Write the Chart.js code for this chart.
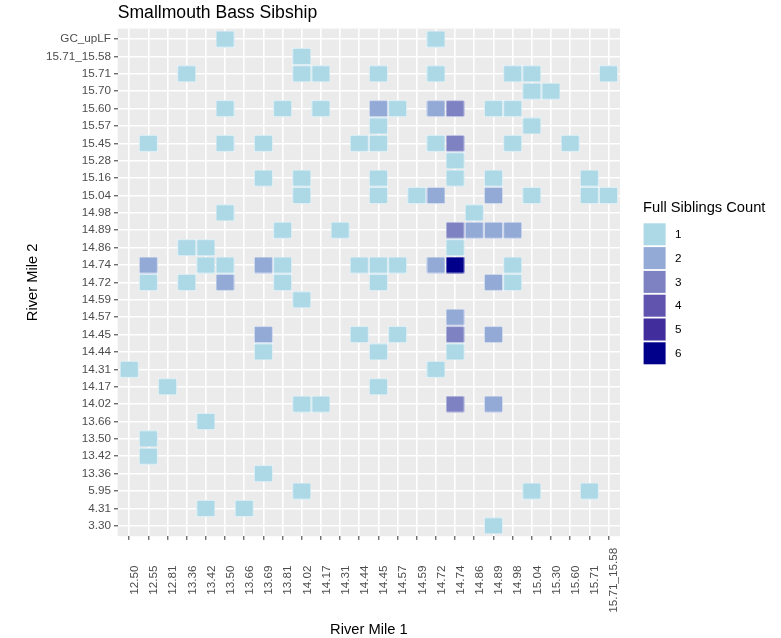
<!DOCTYPE html>
<html>
<head>
<meta charset="utf-8">
<title>Smallmouth Bass Sibship</title>
<script src="https://cdn.jsdelivr.net/npm/chart.js@4.4.1/dist/chart.umd.min.js"></script>
<style>
  html, body { margin: 0; padding: 0; background: #fff; }
  #sibChart { display: block; }
</style>
</head>
<body>
<canvas id="sibChart" width="781" height="638"></canvas>
<script>
// ---- data ----
const riverMile1 = ["12.50", "12.55", "12.81", "13.36", "13.42", "13.50", "13.66", "13.69", "13.81",
    "14.02", "14.17", "14.31", "14.44", "14.45", "14.57", "14.59", "14.72", "14.74", "14.86",
    "14.89", "14.98", "15.04", "15.30", "15.60", "15.71", "15.71_15.58"];

// top to bottom
const riverMile2 = ["GC_upLF", "15.71_15.58", "15.71", "15.70", "15.60", "15.57", "15.45", "15.28",
    "15.16", "15.04", "14.98", "14.89", "14.86", "14.74", "14.72", "14.59", "14.57", "14.45",
    "14.44", "14.31", "14.17", "14.02", "13.66", "13.50", "13.42", "13.36", "5.95", "4.31", "3.30"];

const countLevels = [1, 2, 3, 4, 5, 6];
const countColors = ["#ADD8E6", "#94AAD6", "#7E82C3", "#6154AE", "#412E9C", "#00008B"];

// one entry per River Mile 2 row (same order as riverMile2)
const tileRM1 = [
    ["13.50", "14.72"],
    ["14.02"],
    ["13.36", "14.02", "14.17", "14.45", "14.72", "14.98", "15.04", "15.71_15.58"],
    ["15.04", "15.30"],
    ["13.50", "13.81", "14.17", "14.45", "14.57", "14.72", "14.74", "14.89", "14.98"],
    ["14.45", "15.04"],
    ["12.55", "13.50", "13.69", "14.44", "14.45", "14.72", "14.74", "14.98", "15.60"],
    ["14.74"],
    ["13.69", "14.02", "14.45", "14.74", "14.89", "15.71"],
    ["14.02", "14.45", "14.59", "14.72", "14.89", "15.04", "15.71", "15.71_15.58"],
    ["13.50", "14.86"],
    ["13.81", "14.31", "14.74", "14.86", "14.89", "14.98"],
    ["13.36", "13.42", "14.74"],
    ["12.55", "13.42", "13.50", "13.69", "13.81", "14.44", "14.45", "14.57", "14.72", "14.74", "14.98"],
    ["12.55", "13.36", "13.50", "13.81", "14.45", "14.89", "14.98"],
    ["14.02"],
    ["14.74"],
    ["13.69", "14.44", "14.57", "14.74", "14.89"],
    ["13.69", "14.45", "14.74"],
    ["12.50", "14.72"],
    ["12.81", "14.45"],
    ["14.02", "14.17", "14.74", "14.89"],
    ["13.42"],
    ["12.55"],
    ["12.55"],
    ["13.69"],
    ["14.02", "15.04", "15.71"],
    ["13.42", "13.66"],
    ["14.89"]
];

const tileCount = [
    [1, 1],
    [1],
    [1, 1, 1, 1, 1, 1, 1, 1],
    [1, 1],
    [1, 1, 1, 2, 1, 2, 3, 1, 1],
    [1, 1],
    [1, 1, 1, 1, 1, 1, 3, 1, 1],
    [1],
    [1, 1, 1, 1, 1, 1],
    [1, 1, 1, 2, 2, 1, 1, 1],
    [1, 1],
    [1, 1, 3, 2, 2, 2],
    [1, 1, 1],
    [2, 1, 1, 2, 1, 1, 1, 1, 2, 6, 1],
    [1, 1, 2, 1, 1, 2, 1],
    [1],
    [2],
    [2, 1, 1, 3, 2],
    [1, 1, 1],
    [1, 1],
    [1, 1],
    [1, 1, 3, 2],
    [1],
    [1],
    [1],
    [1],
    [1, 1, 1],
    [1, 1],
    [1]
];

// ---- look ----
const FONT = "'Liberation Sans', Arial, Helvetica, sans-serif";
const EXPAND = 0.6; // ggplot discrete axis expansion

const points = [];
riverMile2.forEach((rm2, j) => {
    tileRM1[j].forEach((rm1, k) => {
        points.push({ x: riverMile1.indexOf(rm1), y: j, n: tileCount[j][k] });
    });
});

// tile drawn as a canvas pointStyle, sized from the scales
const tileCache = {};
function tileImage(chart, n) {
    const xs = chart.scales.x, ys = chart.scales.y;
    if (!xs || !ys || !n) return "rect";
    const w = Math.round(Math.abs(xs.getPixelForValue(1) - xs.getPixelForValue(0)));
    const h = Math.round(Math.abs(ys.getPixelForValue(1) - ys.getPixelForValue(0)));
    if (!(w > 2 && h > 2)) return "rect";
    const key = n + "_" + w + "_" + h;
    if (tileCache[key]) return tileCache[key];
    const c = document.createElement("canvas");
    c.width = w;
    c.height = h;
    const g = c.getContext("2d");
    g.fillStyle = "rgba(255,255,255,0.8)";
    g.fillRect(0, 0, w, h);
    g.fillStyle = countColors[n - 1];
    g.fillRect(0.6, 0.6, w - 1.2, h - 1.2);
    tileCache[key] = c;
    return c;
}

const panelBg = {
    id: "panelBg",
    beforeDraw(chart) {
        const { ctx, chartArea: a } = chart;
        ctx.save();
        ctx.fillStyle = "#fff";
        ctx.fillRect(0, 0, chart.width, chart.height);
        ctx.fillStyle = "#EBEBEB";
        ctx.fillRect(a.left, a.top, a.right - a.left, a.bottom - a.top);
        ctx.restore();
    }
};

const textBits = {
    id: "textBits",
    afterDraw(chart) {
        const { ctx, chartArea: a } = chart;
        const xs = chart.scales.x;
        ctx.save();

        // title
        ctx.fillStyle = "#000";
        ctx.font = "17.6px " + FONT;
        ctx.textAlign = "left";
        ctx.textBaseline = "alphabetic";
        ctx.fillText("Smallmouth Bass Sibship", a.left, 17.6);

        // x tick labels, rotated and centred
        ctx.fillStyle = "#4D4D4D";
        ctx.font = "11.7px " + FONT;
        riverMile1.forEach((lab, i) => {
            const px = xs.getPixelForValue(i);
            ctx.save();
            ctx.translate(px, a.bottom + 44);
            ctx.rotate(-Math.PI / 2);
            ctx.textAlign = "center";
            ctx.fillText(lab, 0, 8.8);
            ctx.restore();
        });

        // axis titles
        ctx.fillStyle = "#000";
        ctx.font = "14.7px " + FONT;
        ctx.textAlign = "center";
        ctx.fillText("River Mile 1", (a.left + a.right) / 2, 634);
        ctx.save();
        ctx.translate(37.3, (a.top + a.bottom) / 2);
        ctx.rotate(-Math.PI / 2);
        ctx.fillText("River Mile 2", 0, 0);
        ctx.restore();

        // legend
        const lx = 643, ly = 222.7, step = 23.8, key = 23.2;
        ctx.textAlign = "left";
        ctx.fillText("Full Siblings Count", lx, 212);
        ctx.font = "11.7px " + FONT;
        ctx.textBaseline = "middle";
        countLevels.forEach((lv, i) => {
            const y = ly + i * step;
            ctx.fillStyle = "#fff";
            ctx.fillRect(lx, y, key, key);
            ctx.fillStyle = countColors[i];
            ctx.fillRect(lx + 0.6, y + 0.6, key - 1.2, key - 1.2);
            ctx.fillStyle = "#000";
            ctx.fillText(String(lv), lx + 32, y + key / 2 + 0.5);
        });

        ctx.restore();
    }
};

new Chart(document.getElementById("sibChart"), {
    type: "scatter",
    data: {
        datasets: [{
            label: "Full Siblings Count",
            data: points,
            pointStyle: (c) => tileImage(c.chart, c.raw && c.raw.n),
            pointRadius: 1,
            pointHoverRadius: 1,
            clip: false
        }]
    },
    options: {
        responsive: false,
        animation: false,
        devicePixelRatio: 1,
        events: [],
        layout: { padding: { top: 28.6, right: 161, left: 0, bottom: 0 } },
        plugins: {
            legend: { display: false },
            title: { display: false },
            tooltip: { enabled: false }
        },
        scales: {
            x: {
                type: "linear",
                min: -EXPAND,
                max: riverMile1.length - 1 + EXPAND,
                afterBuildTicks: (s) => { s.ticks = riverMile1.map((_, i) => ({ value: i })); },
                afterFit: (s) => { s.height = 101.8; },
                ticks: { display: false },
                border: { display: false },
                grid: { color: "#fff", lineWidth: 1.6, drawTicks: true, tickLength: 3.7, tickColor: "#333", tickWidth: 1 }
            },
            y: {
                type: "linear",
                reverse: true,
                min: -EXPAND,
                max: riverMile2.length - 1 + EXPAND,
                afterBuildTicks: (s) => { s.ticks = riverMile2.map((_, i) => ({ value: i })); },
                afterFit: (s) => { s.width = 117.7; },
                ticks: {
                    autoSkip: false,
                    padding: 3,
                    color: "#4D4D4D",
                    font: { family: FONT, size: 11.7 },
                    callback: (v) => riverMile2[v]
                },
                border: { display: false },
                grid: { color: "#fff", lineWidth: 1.6, drawTicks: true, tickLength: 3.7, tickColor: "#333", tickWidth: 1 }
            }
        }
    },
    plugins: [panelBg, textBits]
});
</script>
</body>
</html>
